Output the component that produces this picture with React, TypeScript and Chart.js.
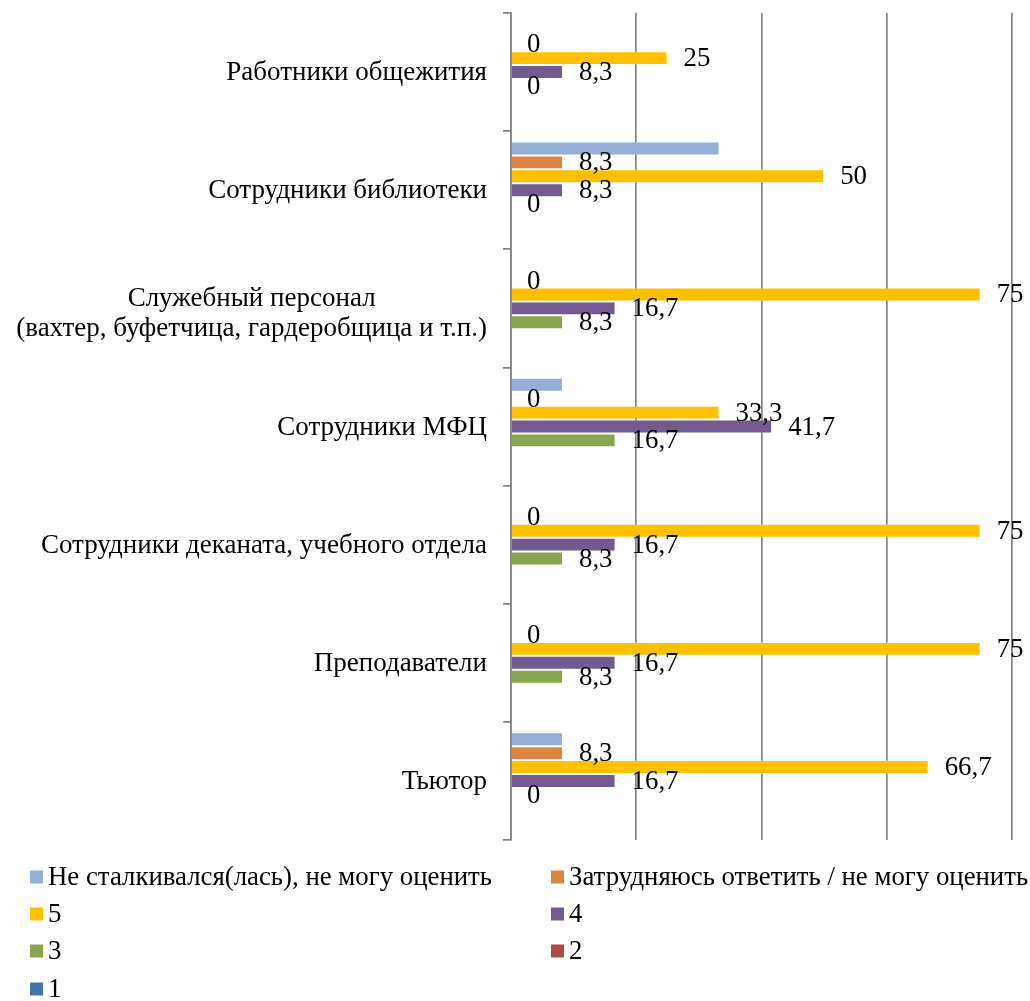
import React, { useEffect, useRef } from "react";
import { Chart, registerables } from "chart.js";

Chart.register(...registerables);

// ---- Data ----
const categories: (string | string[])[] = [
  "Работники общежития",
  "Сотрудники библиотеки",
  ["Служебный персонал", "(вахтер, буфетчица, гардеробщица и т.п.)"],
  "Сотрудники МФЦ",
  "Сотрудники деканата, учебного отдела",
  "Преподаватели",
  "Тьютор",
];

const seriesNames = [
  "Не сталкивался(лась), не могу оценить",
  "Затрудняюсь ответить / не могу оценить",
  "5",
  "4",
  "3",
  "2",
  "1",
];

const notEncountered = [null, 33.3, null, 8.3, null, null, 8.3];
const hardToSay = [0, 8.3, 0, 0, 0, 0, 8.3];
const score5 = [25, 50, 75, 33.3, 75, 75, 66.7];
const score4 = [8.3, 8.3, 16.7, 41.7, 16.7, 16.7, 16.7];
const score3 = [0, 0, 8.3, 16.7, 8.3, 8.3, 0];
const score2 = [null, null, null, null, null, null, null];
const score1 = [null, null, null, null, null, null, null];

const seriesValues = [notEncountered, hardToSay, score5, score4, score3, score2, score1];
const seriesColors = ["#94AED6", "#DE8441", "#FFC000", "#735A91", "#89A54E", "#AF4A47", "#4672A8"];
const labelledSeries = [false, true, true, true, true, false, false];

const axisMax = 80;
const axisStep = 20;

const FONT = '"Liberation Serif", "Times New Roman", serif';
const FONT_SIZE = 26.8;
const CAT_FONT_SIZE = 27;

const dataLabelPlugin = {
  id: "dataLabels",
  afterDatasetsDraw(chart: any) {
    const ctx = chart.ctx;
    ctx.save();
    ctx.font = `${FONT_SIZE}px ${FONT}`;
    ctx.fillStyle = "#000";
    ctx.textAlign = "left";
    ctx.textBaseline = "middle";
    chart.data.datasets.forEach((ds: any, di: number) => {
      if (!labelledSeries[di]) return;
      const meta = chart.getDatasetMeta(di);
      meta.data.forEach((el: any, i: number) => {
        const v = ds.data[i];
        if (v === null || v === undefined) return;
        const txt = String(v).replace(".", ",");
        ctx.fillText(txt, el.x + 16, el.y + 1);
      });
    });
    ctx.restore();
  },
};

const categoryLabelPlugin = {
  id: "categoryLabels",
  afterDraw(chart: any) {
    const ctx = chart.ctx;
    const y = chart.scales.y;
    const right = chart.chartArea.left - 24;
    const lh = 30;
    ctx.save();
    ctx.font = `${CAT_FONT_SIZE}px ${FONT}`;
    ctx.fillStyle = "#000";
    ctx.textBaseline = "middle";
    ctx.textAlign = "center";
    chart.data.labels.forEach((lab: any, i: number) => {
      const lines: string[] = Array.isArray(lab) ? lab : [lab];
      const w = Math.max(...lines.map((l) => ctx.measureText(l).width));
      const cx = right - w / 2;
      const cy = y.getPixelForValue(i) + 1 + (lines.length > 1 ? 5 : 0);
      const y0 = cy - ((lines.length - 1) * lh) / 2;
      lines.forEach((l, k) => ctx.fillText(l, cx, y0 + k * lh));
    });
    ctx.restore();
  },
};

const legendPlugin = {
  id: "gridLegend",
  afterDraw(chart: any) {
    const ctx = chart.ctx;
    const colX = [30, 551];
    const rowY = [877, 914, 951, 989];
    const box = 13;
    ctx.save();
    ctx.font = `${FONT_SIZE}px ${FONT}`;
    ctx.textBaseline = "middle";
    ctx.textAlign = "left";
    chart.data.datasets.forEach((ds: any, i: number) => {
      const x = colX[i % 2];
      const yy = rowY[Math.floor(i / 2)];
      ctx.fillStyle = ds.backgroundColor;
      ctx.fillRect(x, yy - box / 2, box, box);
      ctx.fillStyle = "#000";
      ctx.fillText(ds.label, x + box + 5, yy + 1);
    });
    ctx.restore();
  },
};

export default function App() {
  const ref = useRef<HTMLCanvasElement | null>(null);
  useEffect(() => {
    if (!ref.current) return;
    const chart = new Chart(ref.current, {
      type: "bar",
      data: {
        labels: categories as any,
        datasets: seriesNames.map((name, i) => ({
          label: name,
          data: seriesValues[i] as any,
          backgroundColor: seriesColors[i],
          borderColor: "rgba(255,255,255,0.3)",
          borderWidth: 1,
          categoryPercentage: 7 / 8.5,
          barPercentage: 1,
        })),
      },
      options: {
        animation: false,
        responsive: true,
        maintainAspectRatio: false,
        indexAxis: "y",
        layout: { padding: { left: 0, right: 18, top: 13, bottom: 161 } },
        plugins: { legend: { display: false }, tooltip: { enabled: false } },
        scales: {
          x: {
            min: 0,
            max: axisMax,
            ticks: { display: false, stepSize: axisStep },
            grid: { color: "#868686", lineWidth: 1.75, drawTicks: false },
            border: { display: false },
            afterFit: (s: any) => {
              s.height = 0;
            },
          },
          y: {
            ticks: { display: false },
            grid: {
              drawOnChartArea: false,
              drawTicks: true,
              tickLength: 8,
              color: "#868686",
              lineWidth: 1.75,
              offset: true,
            },
            border: { display: true, color: "#868686", width: 1.75 },
            afterFit: (s: any) => {
              s.width = 511;
            },
          },
        },
      } as any,
      plugins: [dataLabelPlugin, categoryLabelPlugin, legendPlugin],
    });
    return () => chart.destroy();
  }, []);
  return (
    <div style={{ position: "absolute", left: 0, top: 0, width: 1030, height: 1001, background: "#fff" }}>
      <canvas ref={ref} />
    </div>
  );
}
